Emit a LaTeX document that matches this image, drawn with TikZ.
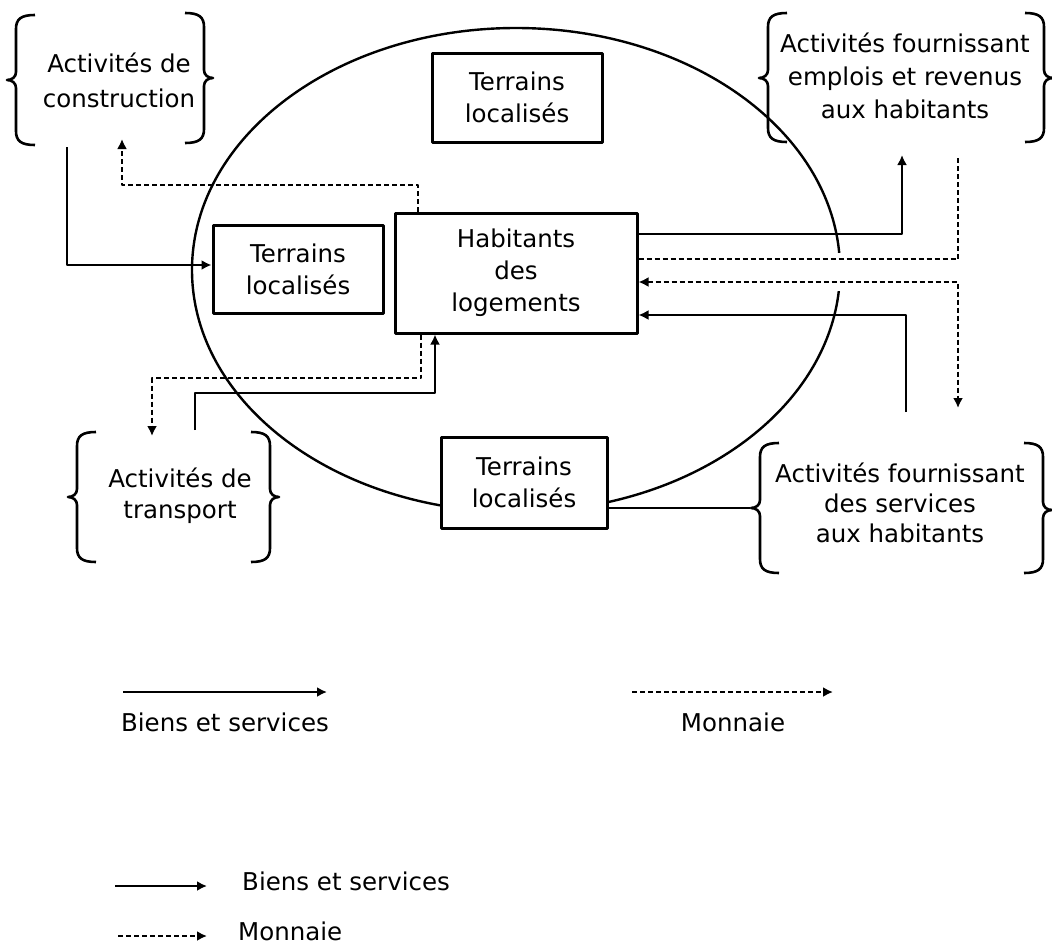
\documentclass[tikz,border=0pt]{standalone}
\usepackage{fontspec}
\setmainfont{DejaVu Sans}
\usetikzlibrary{arrows.meta}
\newcommand{\BrL}[4]{\draw[brc] (#1+19,#2) .. controls (#1+5,#2) and (#1,#2+4) .. (#1,#2+14) -- (#1,#3-8) .. controls (#1,#3-3) and (#1-4,#3) .. (#1-9,#3) .. controls (#1-4,#3) and (#1,#3+3) .. (#1,#3+8) -- (#1,#4-14) .. controls (#1,#4-4) and (#1+5,#4) .. (#1+19,#4);}
\newcommand{\BrR}[4]{\draw[brc] (#1-19,#2) .. controls (#1-5,#2) and (#1,#2+4) .. (#1,#2+14) -- (#1,#3-8) .. controls (#1,#3-3) and (#1+4,#3) .. (#1+9,#3) .. controls (#1+4,#3) and (#1,#3+3) .. (#1,#3+8) -- (#1,#4-14) .. controls (#1,#4-4) and (#1-5,#4) .. (#1-19,#4);}
\begin{document}
\begin{tikzpicture}[x=1pt,y=-1pt,line join=round,
  font=\fontsize{24.5}{32}\selectfont,
  box/.style={draw,line width=3pt,fill=white,inner sep=0pt,align=center},
  lbl/.style={align=center,inner sep=0pt},
  tipA/.style={-{Latex[length=10pt,width=10pt]}},
  goods/.style={line width=2.8pt,tipA},
  money/.style={line width=2.8pt,dash pattern=on 5pt off 3pt,tipA},
  plain/.style={line width=2.8pt},
  moneyplain/.style={line width=2.8pt,dash pattern=on 5pt off 3pt},
  brc/.style={line width=2.6pt},
  ell/.style={line width=2.4pt}]
\fill[white] (0,0) rectangle (1052,945);
\useasboundingbox (0,0) rectangle (1052,945);
% ellipse
\draw[ell] (516,270) ellipse [x radius=324pt, y radius=242pt];
\fill[white] (826,253) rectangle (852,291);
% boxes
\node[box,minimum width=170pt,minimum height=89pt] (tTop) at (517,97.5) {Terrains\\localisés};
\node[box,minimum width=170pt,minimum height=88pt] (tLeft) at (298,269) {Terrains\\localisés};
\node[box,minimum width=242pt,minimum height=120pt] (hab) at (516,273) {Habitants\\des\\logements};
\node[box,minimum width=166pt,minimum height=91pt] (tBot) at (524,482.5) {Terrains\\localisés};
% activity groups
\node[lbl,font=\fontsize{24.5}{35}\selectfont] (constr) at (119,80) {Activités de\\construction};
\node[lbl,font=\fontsize{24.5}{33}\selectfont] (emplois) at (905,76) {Activités fournissant\\emplois et revenus\\aux habitants};
\node[lbl,font=\fontsize{24.5}{31}\selectfont] (transp) at (180,496) {Activités de\\transport};
\node[lbl,font=\fontsize{24.5}{30}\selectfont] (serv) at (900,503) {Activités fournissant\\des services\\aux habitants};
\BrL{16}{15}{80}{145}
\BrR{204}{13}{78}{143}
\BrL{768}{13}{78}{142}
\BrR{1044}{13}{78}{142}
\BrL{77}{432}{497}{562}
\BrR{270}{432}{497}{562}
\BrL{760}{443}{508}{573}
\BrR{1043}{443}{510}{573}
% connectors
\coordinate (c1) at (67,147);
\coordinate (c1k) at (67,265);
\draw[goods] (c1) -- (c1k) -- (c1k -| tLeft.west);
\coordinate (d1) at (418,185);
\coordinate (d1e) at (122,139);
\draw[money] (d1 |- hab.north) -- (d1) -| (d1e);
\coordinate (d2) at (421,378);
\coordinate (d2e) at (152,436);
\draw[money] (d2 |- hab.south) -- (d2) -| (d2e);
\coordinate (g2s) at (195,430);
\coordinate (g2) at (435,393);
\draw[goods] (g2s) |- (g2) -- (g2 |- hab.south);
\coordinate (g3) at (902,234);
\coordinate (g3e) at (902,155);
\draw[goods] (g3 -| hab.east) -- (g3) -- (g3e);
\coordinate (d3) at (958,259);
\coordinate (d3e) at (958,155);
\draw[moneyplain] (d3 -| hab.east) -- (d3) -- (d3e);
\coordinate (d4) at (958,282);
\coordinate (d4e) at (958,408);
\draw[money,{Latex[length=10pt,width=10pt]}-{Latex[length=10pt,width=10pt]}] (d4 -| hab.east) -- (d4) -- (d4e);
\coordinate (g4s) at (906,412);
\coordinate (g4) at (906,315);
\draw[goods] (g4s) -- (g4) -- (g4 -| hab.east);
\coordinate (s1) at (750,508);
\draw[plain] (s1 -| tBot.east) -- (s1);
% legends
\coordinate (l1a) at (123,692);
\coordinate (l1b) at (327,692);
\draw[goods] (l1a) -- (l1b);
\node[lbl,anchor=base] (l1t) at (225,731) {Biens et services};
\coordinate (l2a) at (632,692);
\coordinate (l2b) at (833,692);
\draw[money] (l2a) -- (l2b);
\node[lbl,anchor=base] (l2t) at (733,731) {Monnaie};
\coordinate (l3a) at (115,886);
\coordinate (l3b) at (207,886);
\draw[goods] (l3a) -- (l3b);
\node[lbl,anchor=base west] (l3t) at (242,890) {Biens et services};
\coordinate (l4a) at (118,936);
\coordinate (l4b) at (207,936);
\draw[money] (l4a) -- (l4b);
\node[lbl,anchor=base west] (l4t) at (238,940) {Monnaie};
\end{tikzpicture}
\end{document}
